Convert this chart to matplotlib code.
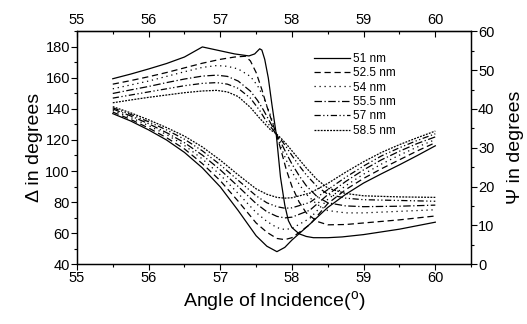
import matplotlib
matplotlib.use("Agg")
import matplotlib.pyplot as plt
from matplotlib.ticker import MultipleLocator

plt.rcParams['font.family'] = ['Liberation Sans', 'DejaVu Sans']

labels = ["51 nm", "52.5 nm", "54 nm", "55.5 nm", "57 nm", "58.5 nm"]

# Delta (left axis), degrees
d_x_51 = [55.5, 55.75, 56.0, 56.25, 56.5, 56.75, 57.0, 57.2, 57.4, 57.48, 57.55, 57.58,
          57.62, 57.67, 57.72, 57.78, 57.84, 57.9, 57.95, 58.0, 58.1, 58.2, 58.3, 58.5,
          58.7, 59.0, 59.5, 60.0]
d_y_51 = [159.5, 162.5, 165.8, 169.3, 173.5, 180, 177.5, 175.5, 174.2, 175.5, 178.8, 178,
          172, 160, 143, 124, 96, 78, 68, 63.5, 59.5, 57.8, 57, 57,
          57.5, 59, 62.5, 67]
d_x_525 = [55.5, 55.75, 56.0, 56.25, 56.5, 56.75, 57.0, 57.2, 57.35, 57.42, 57.5, 57.58,
           57.65, 57.72, 57.78, 57.85, 57.92, 58.0, 58.1, 58.2, 58.35, 58.5, 58.75, 59.0,
           59.5, 60.0]
d_y_525 = [156, 158.3, 160.8, 163.5, 166.5, 169.5, 172, 173.5, 174, 171, 163.5, 152.5,
           141.7, 132, 124, 113, 101, 90, 80, 73, 67.5, 65.3, 65.5, 66.5,
           68.5, 71]
d_x_54 = [55.5, 55.75, 56.0, 56.25, 56.5, 56.75, 56.95, 57.1, 57.25, 57.42, 57.52, 57.6,
          57.7, 57.78, 57.85, 57.92, 58.0, 58.1, 58.2, 58.35, 58.5, 58.75, 59.0, 59.5, 60.0]
d_y_54 = [153, 155.5, 158, 161, 164, 166.8, 168, 167.5, 165.8, 161, 155, 148,
          136, 124, 115, 107, 99.5, 91.5, 85, 78.5, 74.5, 73, 73, 74, 75]
d_x_555 = [55.5, 55.75, 56.0, 56.25, 56.5, 56.75, 56.95, 57.1, 57.25, 57.42, 57.52, 57.6,
           57.7, 57.78, 57.85, 57.92, 58.0, 58.1, 58.2, 58.35, 58.5, 58.75, 59.0, 59.5, 60.0]
d_y_555 = [150, 152.3, 154.5, 157, 159.3, 161.2, 161.8, 161, 158, 151.5, 145.5, 139.5,
           131, 124, 118, 111.5, 104.5, 97, 90.5, 83.5, 79.5, 77.5, 77, 77.3, 78]
d_x_57 = [55.5, 55.75, 56.0, 56.25, 56.5, 56.75, 56.95, 57.1, 57.25, 57.42, 57.55, 57.65,
          57.78, 57.85, 57.92, 58.0, 58.1, 58.2, 58.35, 58.5, 58.75, 59.0, 59.5, 60.0]
d_y_57 = [147, 149, 151, 153, 155, 156.5, 157, 156, 153.3, 147, 139, 131.5,
          124, 120, 115.5, 110, 103.5, 97.5, 90, 85, 82.5, 81.5, 81, 80.5]
d_x_585 = [55.5, 55.75, 56.0, 56.25, 56.5, 56.75, 56.95, 57.1, 57.25, 57.42, 57.55, 57.7,
           57.78, 57.85, 57.92, 58.0, 58.1, 58.2, 58.35, 58.5, 58.75, 59.0, 59.5, 60.0]
d_y_585 = [144, 145.8, 147.5, 149, 150.5, 151.6, 152, 151, 148, 141, 134, 126.6,
           124, 121, 117.5, 113, 107.5, 102, 94.5, 89, 85.5, 84, 83.3, 83]

# Psi (right axis), degrees
p_x = [55.5, 55.75, 56.0, 56.25, 56.5, 56.75, 57.0, 57.25, 57.5, 57.65, 57.79, 57.9,
       58.0, 58.25, 58.5, 58.75, 59.0, 59.25, 59.5, 59.75, 60.0]
p_y_51 = [38.8, 36.9, 34.6, 32.0, 28.8, 24.8, 19.9, 13.8, 7.3, 4.6, 3.2, 4.3,
          6.2, 10.3, 14.6, 18.0, 20.9, 23.3, 25.6, 28.0, 30.5]
p_y_525 = [39.2, 37.3, 35.1, 32.6, 29.7, 25.9, 21.5, 16.2, 10.6, 8.2, 6.6, 6.3,
           6.8, 10.2, 15.6, 19.2, 22.1, 24.6, 26.9, 29.2, 31.3]
p_y_54 = [39.6, 37.8, 35.7, 33.4, 30.6, 27.1, 23.0, 18.2, 13.3, 11.0, 9.4, 8.9,
          9.2, 11.8, 16.7, 20.2, 23.2, 25.8, 28.1, 30.2, 32.1]
p_y_555 = [40.0, 38.2, 36.2, 33.9, 31.3, 28.1, 24.3, 20.0, 15.6, 13.5, 12.3, 11.9,
           12.1, 13.9, 17.9, 21.3, 24.3, 26.9, 29.1, 31.1, 32.8]
p_y_57 = [40.3, 38.6, 36.7, 34.6, 32.2, 29.2, 25.6, 21.6, 17.6, 15.8, 14.8, 14.4,
          14.5, 15.9, 19.2, 22.4, 25.3, 27.9, 30.0, 31.9, 33.6]
p_y_585 = [40.6, 39.0, 37.2, 35.2, 33.0, 30.2, 26.8, 23.0, 19.4, 18.0, 17.2, 17.0,
           17.1, 18.3, 20.8, 23.7, 26.4, 28.8, 30.8, 32.6, 34.3]

delta = [(d_x_51, d_y_51), (d_x_525, d_y_525), (d_x_54, d_y_54),
         (d_x_555, d_y_555), (d_x_57, d_y_57), (d_x_585, d_y_585)]
psi = [p_y_51, p_y_525, p_y_54, p_y_555, p_y_57, p_y_585]

styles = ['-', (0, (5, 3)), (0, (1, 3)), (0, (6, 2, 1, 2)),
          (0, (5, 2, 1, 2, 1, 2)), (0, (1.5, 1))]
lw = 0.9

fig = plt.figure(figsize=(5.27, 3.24), dpi=100)
ax = fig.add_axes([0.146, 0.185, 0.748, 0.718])
ax2 = ax.twinx()

for i in range(6):
    ax.plot(delta[i][0], delta[i][1], color='black', lw=lw, ls=styles[i], label=labels[i])
    ax2.plot(p_x, psi[i], color='black', lw=lw, ls=styles[i])

ax.set_xlim(55, 60.5)
ax.set_ylim(40, 190)
ax2.set_ylim(0, 60)

ax.xaxis.set_minor_locator(MultipleLocator(0.5))
ax.yaxis.set_minor_locator(MultipleLocator(10))
ax2.yaxis.set_major_locator(MultipleLocator(10))
ax2.yaxis.set_minor_locator(MultipleLocator(5))
ax.set_yticks(range(40, 181, 20))
ax.set_xticks(range(55, 61))

ticksize = 10.5
ax.tick_params(which='major', direction='out', length=4, width=0.8, labelsize=ticksize, pad=1)
ax.tick_params(which='minor', direction='out', length=2.5, width=0.8)
ax2.tick_params(which='major', direction='out', length=4, width=0.8, labelsize=ticksize, pad=1)
ax2.tick_params(which='minor', direction='out', length=2.5, width=0.8)

top = ax.secondary_xaxis('top')
top.set_xticks(range(55, 61))
top.xaxis.set_minor_locator(MultipleLocator(0.5))
top.tick_params(which='major', direction='in', length=4, width=0.8, labelsize=ticksize, pad=3)
top.tick_params(which='minor', direction='in', length=2.5, width=0.8)

for a in (ax, ax2):
    for s in a.spines.values():
        s.set_linewidth(0.9)

ax.set_xlabel("Angle of Incidence($^{\\mathregular{o}}$)", fontsize=14, labelpad=3)
ax.set_ylabel("\u0394 in degrees", fontsize=14, labelpad=2)
ax2.set_ylabel("\u03a8 in degrees", fontsize=14, labelpad=9)

ax.legend(loc='upper left', bbox_to_anchor=(0.585, 0.855), bbox_transform=fig.transFigure,
          frameon=False, fontsize=8.5, handlelength=3.0, labelspacing=0.2,
          handletextpad=0.3, borderpad=0)

fig.savefig("out.png", dpi=100)
